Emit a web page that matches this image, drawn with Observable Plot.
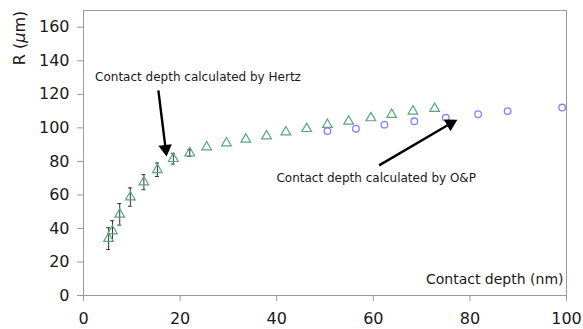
<!DOCTYPE html>
<html><head><meta charset="utf-8">
<script src="https://cdn.jsdelivr.net/npm/d3@7"></script>
<script src="https://cdn.jsdelivr.net/npm/@observablehq/plot@0.6"></script>
<style>
body{margin:0;background:#fff;}
#chart svg{display:block;}
</style></head>
<body><div id="chart"></div>
<script>
// Hertz series (triangles)
const hertzX = [5.2, 6.0, 7.5, 9.7, 12.5, 15.3, 18.6, 22.0, 25.5, 29.6, 33.6, 37.9, 41.9, 46.2, 50.5, 54.9, 59.5, 63.8, 68.2, 72.7];
const hertzY = [33.9, 38.4, 48.4, 58.7, 67.6, 75.0, 81.6, 85.0, 88.5, 90.9, 93.1, 95.1, 97.5, 99.5, 101.9, 103.9, 105.9, 107.9, 109.9, 111.5];
const hertzErr = [6.5, 6.2, 6.4, 5.5, 4.5, 4.0, 3.2, 2.0, 0, 0, 0, 0, 0, 0, 0, 0, 0, 0, 0, 0];
// O&P series (circles)
const opX = [50.5, 56.4, 62.3, 68.5, 75.0, 81.7, 87.8, 99.1];
const opY = [98.1, 99.5, 101.9, 103.9, 106.1, 108.1, 110.0, 112.1];
const xTicks = [0, 20, 40, 60, 80, 100];
const yTicks = [0, 20, 40, 60, 80, 100, 120, 140, 160];
// annotations
const noteText = ["Contact depth calculated by Hertz", "Contact depth calculated by O&P"];
const noteX = [23.7, 60.6];
const noteY = [130.3, 70.0];
const arrowX1 = [15.5, 61.2];
const arrowY1 = [122.4, 77.6];
const arrowX2 = [17.0, 76.0];
const arrowY2 = [87.5, 102.6];
const arrowRot = [173, 61];
const yLabel = ["R (", "μ", "m)"];

const hertz = hertzX.map((x, i) => ({x, y: hertzY[i], e: hertzErr[i]}));
const errs = hertz.filter(d => d.e > 0);
const op = opX.map((x, i) => ({x, y: opY[i]}));
const notes = noteText.map((t, i) => ({t, x: noteX[i], y: noteY[i]}));
const arrows = arrowX1.map((x1, i) => ({x1, y1: arrowY1[i], x2: arrowX2[i], y2: arrowY2[i], r: arrowRot[i]}));

const chart = Plot.plot({
  width: 583, height: 329,
  marginLeft: 83, marginRight: 17, marginTop: 10, marginBottom: 34,
  style: {fontFamily: "'DejaVu Sans', sans-serif", background: "#fff"},
  x: {domain: [0, 100]},
  y: {domain: [0, 170]},
  marks: [
    Plot.frame({stroke: "#9a9a9a"}),
    Plot.axisX({ticks: xTicks, tickSize: 6, tickPadding: 11, fontSize: 16, stroke: "#9a9a9a", fill: "#1a1a1a", label: null}),
    Plot.axisY({ticks: yTicks, tickSize: 6, tickPadding: 8, fontSize: 16, stroke: "#9a9a9a", fill: "#1a1a1a", label: null}),
    Plot.ruleX(errs, {x: "x", y1: d => d.y - d.e, y2: d => d.y + d.e, stroke: "#333", strokeWidth: 1}),
    Plot.ruleY(errs, {x1: "x", x2: "x", y: d => d.y + d.e, insetLeft: -2, insetRight: -2, stroke: "#333", strokeWidth: 1}),
    Plot.ruleY(errs, {x1: "x", x2: "x", y: d => d.y - d.e, insetLeft: -2, insetRight: -2, stroke: "#333", strokeWidth: 1}),
    Plot.dot(hertz, {x: "x", y: "y", symbol: "triangle", r: 3.6, stroke: "#5aa57f", fill: "none", strokeWidth: 1.2}),
    Plot.dot(op, {x: "x", y: "y", symbol: "circle", r: 3.3, stroke: "#8580ff", fill: "none", strokeWidth: 1.3}),
    Plot.link(arrows, {x1: "x1", y1: "y1", x2: "x2", y2: "y2", stroke: "#000", strokeWidth: 2.4}),
    Plot.dot(arrows, {x: "x2", y: "y2", symbol: "triangle", r: 5, fill: "#000", rotate: "r"}),
    Plot.text(notes, {x: "x", y: "y", text: "t", fontSize: 12, fill: "#1a1a1a"}),
    Plot.text(["Contact depth (nm)"], {frameAnchor: "bottom-right", dx: -3, dy: -16, lineAnchor: "middle", fontSize: 14, fill: "#1a1a1a"})
  ]
});
document.getElementById("chart").append(chart);
// rotated y label with italic mu
const lab = d3.select(chart).append("text")
  .attr("transform", "translate(20,38) rotate(-90)")
  .attr("text-anchor", "middle")
  .attr("dominant-baseline", "middle")
  .attr("font-size", 16)
  .attr("fill", "#1a1a1a");
yLabel.forEach((s, i) => lab.append("tspan").attr("font-style", i === 1 ? "italic" : null).text(s));
</script>
</body></html>
